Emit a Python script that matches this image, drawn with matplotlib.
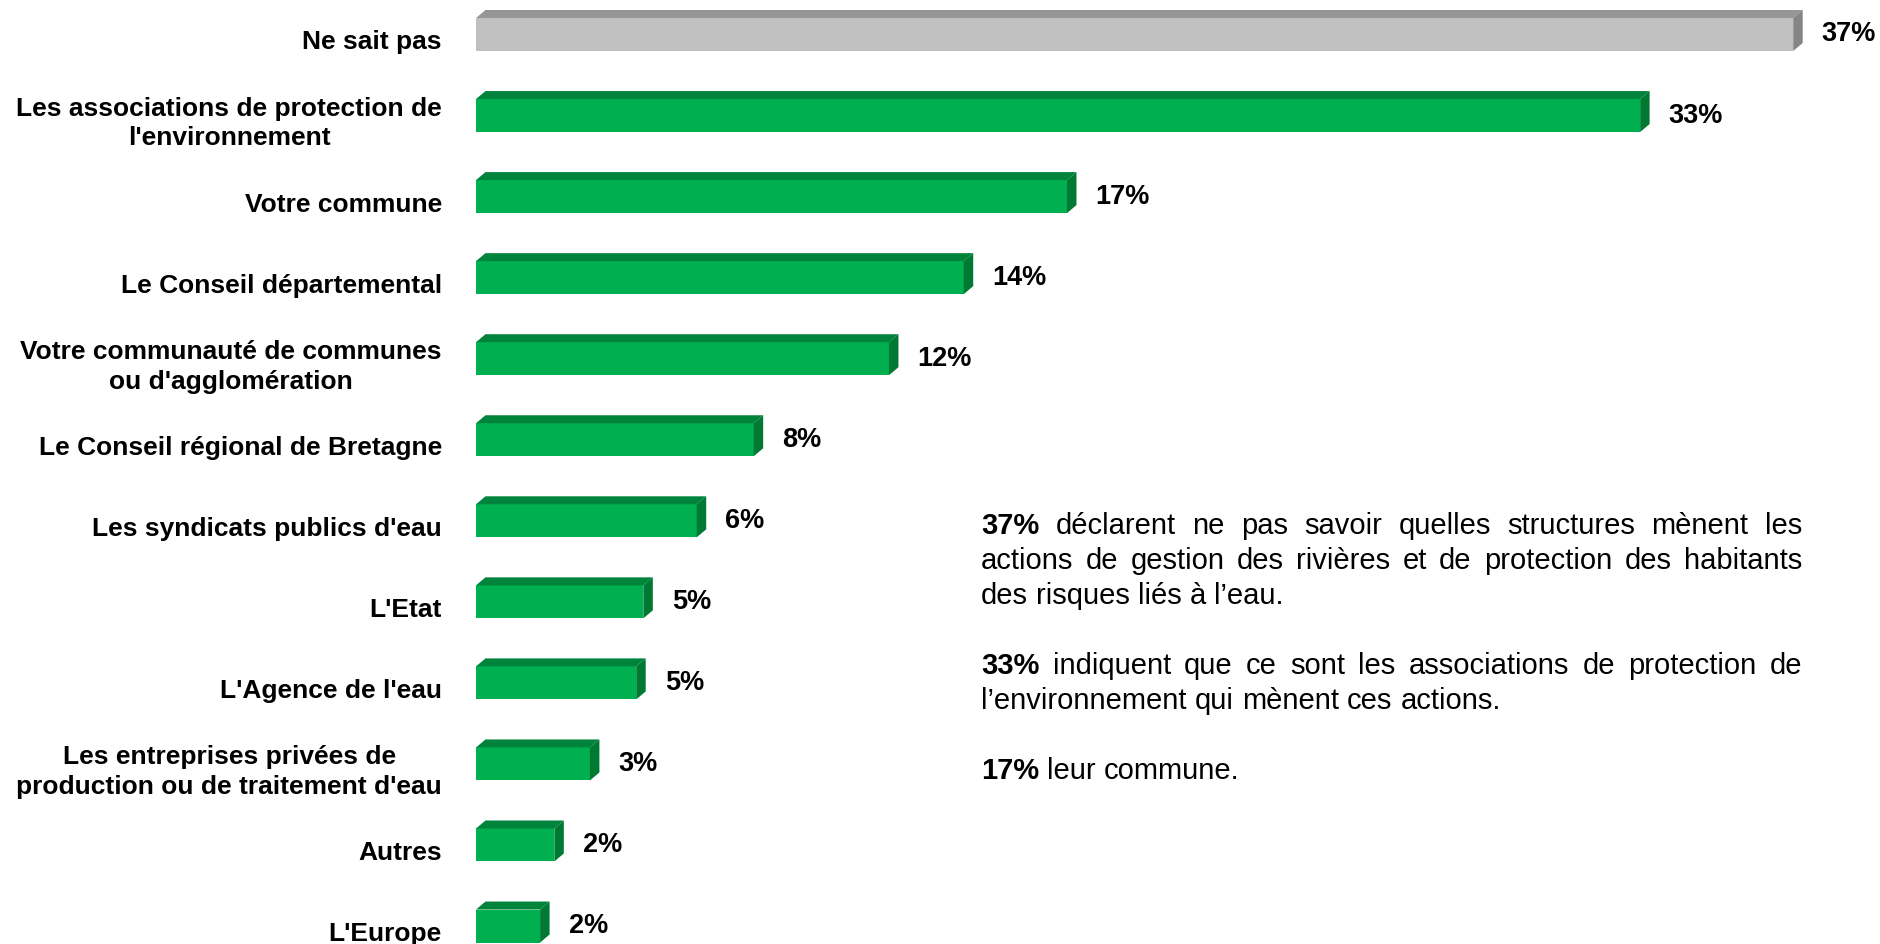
import matplotlib
matplotlib.use("Agg")
import matplotlib.pyplot as plt
from matplotlib.patches import Polygon
import matplotlib.transforms as mtransforms

# ---------------- data ----------------
categories = [
    "Ne sait pas",
    "Les associations de protection de\nl'environnement",
    "Votre commune",
    "Le Conseil départemental",
    "Votre communauté de communes\nou d'agglomération",
    "Le Conseil régional de Bretagne",
    "Les syndicats publics d'eau",
    "L'Etat",
    "L'Agence de l'eau",
    "Les entreprises privées de\nproduction ou de traitement d'eau",
    "Autres",
    "L'Europe",
]
values = [37.0, 32.7, 16.6, 13.7, 11.6, 7.8, 6.2, 4.7, 4.5, 3.2, 2.2, 1.8]
value_labels = ["37%", "33%", "17%", "14%", "12%", "8%", "6%", "5%", "5%", "3%", "2%", "2%"]
highlight = ["Ne sait pas"]

# commentary text: (bold prefix, rest, justified) per line; None = blank line
comment_lines = [
    ("37%", "déclarent ne pas savoir quelles structures mènent les", True),
    ("", "actions de gestion des rivières et de protection des habitants", True),
    ("", "des risques liés à l’eau.", False),
    None,
    ("33%", "indiquent que ce sont les associations de protection de", True),
    ("", "l’environnement qui mènent ces actions.", False),
    None,
    ("17%", "leur commune.", False),
]

# ---------------- style ----------------
FONT = "Liberation Sans"
plt.rcParams["font.family"] = [FONT, "DejaVu Sans"]

W, H = 1880, 944
DPI = 100
fig = plt.figure(figsize=(W / DPI, H / DPI), dpi=DPI)
fig.patch.set_facecolor("white")

x0_px = 476
px_per_pct = 35.6
y_first_px = 34.5
y_step_px = 81.05

ax = fig.add_axes([x0_px / W, 0, 1 - x0_px / W, 1])
ax.set_xlim(0, (W - x0_px) / px_per_pct)
ax.set_ylim((H - y_first_px) / y_step_px, -y_first_px / y_step_px)
ax.axis("off")

bar_h = 33 / y_step_px
dx = 9.5 / px_per_pct
dy = 8 / y_step_px

green_front, green_top, green_side = "#00B050", "#00843C", "#007A33"
grey_front, grey_top, grey_side = "#C0C0C0", "#969696", "#858585"

for i, (cat, v) in enumerate(zip(categories, values)):
    if cat in highlight:
        cf, ct, cs = grey_front, grey_top, grey_side
    else:
        cf, ct, cs = green_front, green_top, green_side
    top = i - bar_h / 2
    bot = i + bar_h / 2
    ax.add_patch(Polygon([(0, top), (v, top), (v, bot), (0, bot)], closed=True,
                         facecolor=cf, edgecolor="none"))
    ax.add_patch(Polygon([(0, top), (dx, top - dy), (v + dx, top - dy), (v, top)], closed=True,
                         facecolor=ct, edgecolor="none"))
    ax.add_patch(Polygon([(v, top), (v + dx, top - dy), (v + dx, bot - dy), (v, bot)], closed=True,
                         facecolor=cs, edgecolor="none"))
    off = mtransforms.ScaledTranslation(19 / DPI, 0 / DPI, fig.dpi_scale_trans)
    ax.text(v + dx, i, value_labels[i], transform=ax.transData + off,
            ha="left", va="center", fontsize=19.5, fontweight="bold", color="black")
    loff = mtransforms.ScaledTranslation(-34 / DPI, -8 / DPI, fig.dpi_scale_trans)
    ax.text(0, i, cat, transform=ax.get_yaxis_transform() + loff,
            ha="right", va="center", multialignment="center",
            fontsize=19, fontweight="bold", color="black", linespacing=1.3)

# ---------------- justified commentary ----------------
renderer = fig.canvas.get_renderer()
left_px, right_px = 981, 1802
base0_px = 534
line_step = 35
cfs = 21


def width_of(s, bold):
    t = fig.text(0, 0, s, fontsize=cfs, fontweight="bold" if bold else "normal")
    w = t.get_window_extent(renderer).width
    t.remove()
    return w


space_w = width_of("a a", False) - width_of("aa", False)

for k, line in enumerate(comment_lines):
    if line is None:
        continue
    bold_prefix, rest, justify = line
    y = 1 - (base0_px + k * line_step) / H
    words = []
    if bold_prefix:
        words.append((bold_prefix, True))
    words += [(w, False) for w in rest.split(" ")]
    widths = [width_of(w, b) for w, b in words]
    if justify and len(words) > 1:
        gap = (right_px - left_px - sum(widths)) / (len(words) - 1)
    else:
        gap = space_w
    x = left_px
    for (w, b), wd in zip(words, widths):
        fig.text(x / W, y, w, fontsize=cfs, fontweight="bold" if b else "normal",
                 ha="left", va="baseline", color="black")
        x += wd + gap

fig.savefig("out.png", dpi=DPI, facecolor="white")
